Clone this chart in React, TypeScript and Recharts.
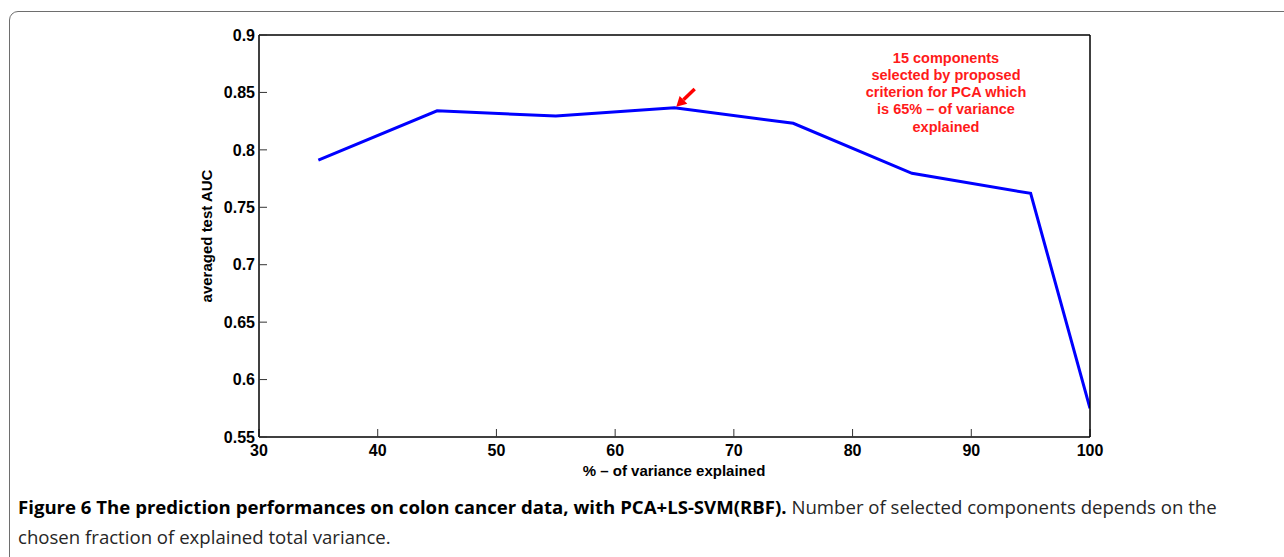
import { LineChart, Line, XAxis, YAxis, ReferenceLine } from "recharts";

const variance = [35, 45, 55, 65, 75, 85, 95, 100];
const auc = [0.791, 0.834, 0.8295, 0.8367, 0.8231, 0.7796, 0.7621, 0.575];
const xTicks = [30, 40, 50, 60, 70, 80, 90, 100];
const yTicks = [0.55, 0.6, 0.65, 0.7, 0.75, 0.8, 0.85, 0.9];
const yTickLabels = ["0.55", "0.6", "0.65", "0.7", "0.75", "0.8", "0.85", "0.9"];
const noteLines = [
  "15 components",
  "selected by proposed",
  "criterion for PCA which",
  "is 65% \u2013 of variance",
  "explained",
];
// arrow from the note down to the 65% point
const arrowFrom = { x: 66.7, y: 0.853 };
const arrowTo = { x: 65.15, y: 0.8375 };

const data = variance.map((v, i) => ({ v, auc: auc[i] }));

const tickFont = {
  fontFamily: "'Liberation Sans', Arial, sans-serif",
  fontWeight: 700,
  fontSize: 16,
  fill: "#000",
};
const axisLine = { stroke: "#000", strokeWidth: 1.5 };
const tickLine = { stroke: "#333" };

function Arrow(props: any) {
  const { x1, y1, x2, y2 } = props;
  const dx = x2 - x1;
  const dy = y2 - y1;
  const len = Math.sqrt(dx * dx + dy * dy) || 1;
  const ux = dx / len;
  const uy = dy / len;
  const head = 10;
  const half = 5.5;
  const bx = x2 - ux * head;
  const by = y2 - uy * head;
  return (
    <g>
      <line x1={x1} y1={y1} x2={bx} y2={by} stroke="#ff0000" strokeWidth={3.5} />
      <polygon
        points={`${x2},${y2} ${bx - uy * half},${by + ux * half} ${bx + uy * half},${by - ux * half}`}
        fill="#ff0000"
      />
    </g>
  );
}

export default function App() {
  return (
    <div
      style={{
        position: "absolute",
        left: 0,
        top: 0,
        width: 1284,
        height: 557,
        overflow: "hidden",
        background: "#fff",
      }}
    >
      <div
        style={{
          position: "absolute",
          left: 9,
          top: 11,
          width: 1300,
          height: 580,
          border: "1.5px solid #6e6e6e",
          borderRadius: 9,
        }}
      />
      <div style={{ position: "absolute", left: 0, top: 0 }}>
        <LineChart
          width={1284}
          height={557}
          data={data}
          margin={{ top: 30, right: 189, bottom: 0, left: 0 }}
        >
          <XAxis
            dataKey="v"
            type="number"
            domain={[30, 100]}
            ticks={xTicks}
            allowDataOverflow
            height={120}
            tickSize={-8}
            tickMargin={16}
            axisLine={axisLine}
            tickLine={tickLine}
            tick={tickFont}
          />
          <XAxis
            xAxisId="top"
            dataKey="v"
            orientation="top"
            type="number"
            domain={[30, 100]}
            ticks={xTicks}
            allowDataOverflow
            height={5}
            tickSize={-8}
            axisLine={axisLine}
            tickLine={tickLine}
            tick={false}
          />
          <YAxis
            type="number"
            domain={[0.55, 0.9]}
            ticks={yTicks}
            allowDataOverflow
            width={259}
            tickSize={-8}
            tickMargin={12}
            axisLine={axisLine}
            tickLine={tickLine}
            tick={tickFont}
            tickFormatter={(v: number) => yTickLabels[yTicks.indexOf(v)] ?? String(v)}
          />
          <YAxis
            yAxisId="right"
            orientation="right"
            type="number"
            domain={[0.55, 0.9]}
            ticks={yTicks}
            allowDataOverflow
            width={5}
            tickSize={-8}
            axisLine={axisLine}
            tickLine={tickLine}
            tick={false}
          />
          {/* invisible series so the top/right frame axes get drawn */}
          <Line
            xAxisId="top"
            yAxisId="right"
            dataKey="auc"
            stroke="none"
            dot={false}
            activeDot={false}
            legendType="none"
            isAnimationActive={false}
          />
          <Line
            dataKey="auc"
            type="linear"
            stroke="#0000ff"
            strokeWidth={3}
            dot={false}
            isAnimationActive={false}
          />
          <ReferenceLine
            segment={[arrowFrom, arrowTo]}
            stroke="#ff0000"
            shape={(p: any) => <Arrow {...p} />}
          />
        </LineChart>
      </div>

      {/* axis titles */}
      <div
        style={{
          position: "absolute",
          left: 674,
          top: 470,
          transform: "translate(-50%, -50%)",
          whiteSpace: "nowrap",
          fontFamily: "'Liberation Sans', Arial, sans-serif",
          fontWeight: 700,
          fontSize: 15,
        }}
      >
        % – of variance explained
      </div>
      <div
        style={{
          position: "absolute",
          left: 206,
          top: 236,
          transform: "translate(-50%, -50%) rotate(-90deg)",
          whiteSpace: "nowrap",
          fontFamily: "'Liberation Sans', Arial, sans-serif",
          fontWeight: 700,
          fontSize: 15,
        }}
      >
        averaged test AUC
      </div>

      {/* annotation */}
      <div
        style={{
          position: "absolute",
          left: 946,
          top: 49.5,
          transform: "translateX(-50%)",
          textAlign: "center",
          whiteSpace: "nowrap",
          color: "#ff1a1a",
          fontFamily: "'Liberation Sans', Arial, sans-serif",
          fontWeight: 700,
          fontSize: 14.5,
          lineHeight: "17.25px",
        }}
      >
        {noteLines.map((l) => (
          <div key={l}>{l}</div>
        ))}
      </div>

      {/* caption */}
      <div
        style={{
          position: "absolute",
          left: 18,
          top: 492,
          whiteSpace: "nowrap",
          fontFamily: "'Open Sans', 'Noto Sans', sans-serif",
          fontSize: 18.6,
          lineHeight: "30px",
          color: "#262626",
        }}
      >
        <div>
          <span style={{ fontWeight: 700, color: "#000" }}>
            Figure 6 The prediction performances on colon cancer data, with PCA+LS-SVM(RBF).
          </span>{" "}
          Number of selected components depends on the
        </div>
        <div>chosen fraction of explained total variance.</div>
      </div>
    </div>
  );
}
